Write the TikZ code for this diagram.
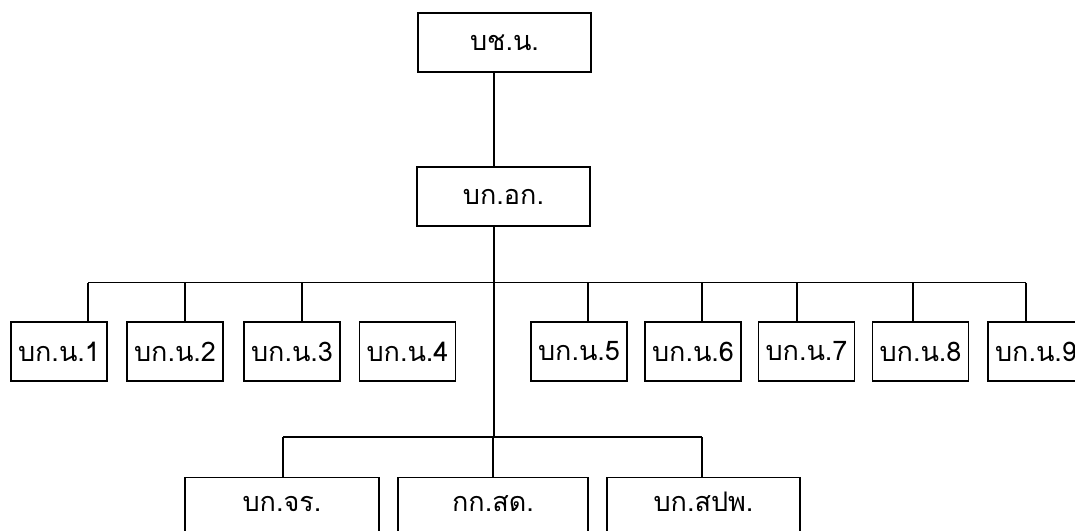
\documentclass[tikz,border=0pt]{standalone}
\usepackage{fontspec}
\setmainfont[Script=Thai]{Loma}
\begin{document}
\begin{tikzpicture}[x=1pt,y=-1pt,line width=1.4pt,
  unit/.style={draw=black, rectangle, inner sep=0pt, font=\fontsize{27}{30}\selectfont},
  chief/.style={unit, minimum width=173pt, minimum height=59pt},
  division/.style={unit, minimum width=96pt, minimum height=59pt},
  sub/.style={unit, anchor=north, text height=34pt, text depth=32pt, minimum height=66pt}]
\useasboundingbox (0,0) rectangle (1075,530);
\clip (0,0) rectangle (1075,530);
% top of the chain
\node[chief] (bchn) at (504.5,42.5) {บช.น.};
\node[chief] (bkok) at (503.5,196.5) {บก.อก.};
\coordinate (trunk) at (494,0);
\coordinate (barA) at (0,282.5);
\coordinate (barB) at (0,437);
% the nine divisions
\node[division] (n1) at (59,351.5) {บก.น.1};
\node[division] (n2) at (175,351.5) {บก.น.2};
\node[division] (n3) at (292,351.5) {บก.น.3};
\node[division] (n4) at (407.5,351.5) {บก.น.4};
\node[division] (n5) at (579,351.5) {บก.น.5};
\node[division] (n6) at (693,351.5) {บก.น.6};
\node[division] (n7) at (806.5,351.5) {บก.น.7};
\node[division] (n8) at (920.5,351.5) {บก.น.8};
\node[division] (n9) at (1036,351.5) {บก.น.9};
% the lower units
\node[sub, minimum width=194pt] (bkjr) at (282,477) {บก.จร.};
\node[sub, minimum width=190pt] (kksd) at (493,477) {กก.สด.};
\node[sub, minimum width=193pt] (bksp) at (703.5,477) {บก.สปพ.};
\draw (bchn.south -| trunk) -- (bkok.north -| trunk);
\draw (bkok.south -| trunk) -- (barB -| trunk);
\draw ([xshift=29pt]n1.north |- barA) -- ([xshift=-10pt]n9.north |- barA);
\foreach \n/\dx in {1/29,2/10,3/10,5/9,6/9,7/-9.5,8/-7.5,9/-10}
  \draw ([xshift=\dx pt]n\n.north |- barA) -- ([xshift=\dx pt]n\n.north);
\draw ([xshift=1pt]bkjr.north |- barB) -- ([xshift=-1.5pt]bksp.north |- barB);
\draw ([xshift=1pt]bkjr.north |- barB) -- ([xshift=1pt]bkjr.north);
\draw (kksd.north |- barB) -- (kksd.north);
\draw ([xshift=-1.5pt]bksp.north |- barB) -- ([xshift=-1.5pt]bksp.north);
\end{tikzpicture}
\end{document}
